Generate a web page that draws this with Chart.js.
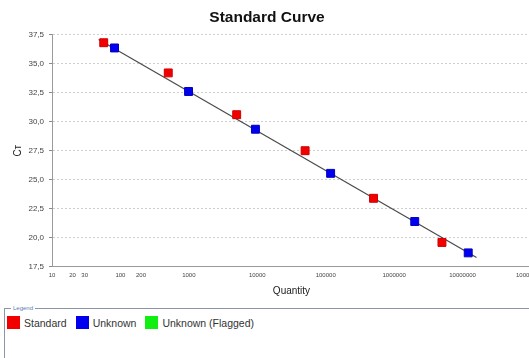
<!DOCTYPE html>
<html>
<head>
<meta charset="utf-8">
<script src="https://cdn.jsdelivr.net/npm/chart.js@4/dist/chart.umd.min.js"></script>
<style>
  html, body { margin: 0; padding: 0; background: #fff; overflow: hidden; width: 529px; height: 358px; }
  #wrap { position: absolute; left: 0; top: 0; width: 551px; height: 300px; }
  #legendBox {
    position: absolute; left: 4px; top: 305px; width: 600px; height: 80px;
    margin: 0; padding: 4px 0 0 2px; border: 1px solid #8c96a8; border-right: none; border-bottom: none;
    font-family: "Liberation Sans", Arial, sans-serif;
  }
  #legendBox legend { font-size: 6px; color: #5b7bb5; padding: 0 2px; margin-left: 4px; }
  .item { display: inline-flex; align-items: center; margin-right: 9px; font-size: 10.5px; color: #333; }
  .swatch { width: 13px; height: 13px; margin-right: 4px; box-sizing: border-box; }
</style>
</head>
<body>
<div id="wrap"><canvas id="curve" width="551" height="300"></canvas></div>
<fieldset id="legendBox"><legend>Legend</legend><div id="legendItems"></div></fieldset>
<script>
const standardQty = [57, 500, 5000, 50000, 500000, 5000000];
const standardCt = [36.8, 34.2, 30.6, 27.5, 23.4, 19.6];

const unknownQty = [82, 990, 9400, 118000, 2000000, 12100000];
const unknownCt = [36.35, 32.6, 29.35, 25.55, 21.4, 18.7];

const flaggedQty = [];
const flaggedCt = [];

// droite de régression
const fitQty = [48, 16000000];
const fitCt = [37.07, 18.3];

const xTickValues = [10, 20, 30, 100, 200, 1000, 10000, 100000, 1000000, 10000000, 100000000];

const seriesNames = ['Standard', 'Unknown', 'Unknown (Flagged)'];
const seriesColors = ['#f20000', '#0000ee', '#11ee11'];

const toPoints = (xs, ys) => xs.map((x, i) => ({ x: x, y: ys[i] }));

const font = '"Liberation Sans", Arial, sans-serif';

// le titre est centré sur la zone visible et non sur tout le canvas
const titleShift = {
    id: 'titleShift',
    afterLayout(chart) {
        if (chart.titleBlock) chart.titleBlock.right = chart.width - 17;
    }
};

const chart = new Chart(document.getElementById('curve'), {
    type: 'scatter',
    data: {
        datasets: [
            {
                label: 'Fit',
                data: toPoints(fitQty, fitCt),
                showLine: true,
                borderColor: '#4a4a4a',
                borderWidth: 1.2,
                pointRadius: 0,
                order: 3
            },
            {
                label: seriesNames[0],
                data: toPoints(standardQty, standardCt),
                pointStyle: 'rect',
                pointRadius: 5.6,
                backgroundColor: seriesColors[0],
                borderColor: '#d00000',
                borderWidth: 1,
                order: 1
            },
            {
                label: seriesNames[1],
                data: toPoints(unknownQty, unknownCt),
                pointStyle: 'rect',
                pointRadius: 5.6,
                backgroundColor: seriesColors[1],
                borderColor: '#0000c0',
                borderWidth: 1,
                order: 1
            },
            {
                label: seriesNames[2],
                data: toPoints(flaggedQty, flaggedCt),
                pointStyle: 'rect',
                pointRadius: 5.6,
                backgroundColor: seriesColors[2],
                order: 1
            }
        ]
    },
    plugins: [titleShift],
    options: {
        responsive: false,
        animation: false,
        layout: { padding: { bottom: 3 } },
        plugins: {
            legend: { display: false },
            tooltip: { enabled: false },
            title: {
                display: true,
                text: 'Standard Curve',
                color: '#111',
                font: { family: font, size: 15.5, weight: 'bold' },
                padding: { top: 8, bottom: 8 }
            }
        },
        scales: {
            x: {
                type: 'logarithmic',
                min: 10,
                max: 100000000,
                afterBuildTicks: (scale) => {
                    scale.ticks = xTickValues.map(v => ({ value: v }));
                },
                ticks: {
                    autoSkip: false,
                    maxRotation: 0,
                    padding: 5,
                    color: '#444',
                    font: { family: font, size: 6 },
                    callback: (v) => String(v)
                },
                grid: { display: false, drawTicks: false },
                border: { display: true, color: '#9a9a9a', width: 1 },
                title: {
                    display: true,
                    text: 'Quantity',
                    color: '#222',
                    font: { family: font, size: 10 },
                    padding: { top: 1, bottom: 0 }
                }
            },
            y: {
                min: 17.5,
                max: 37.5,
                afterFit: (scale) => { scale.width = 52; },
                ticks: {
                    stepSize: 2.5,
                    padding: 5,
                    color: '#444',
                    font: { family: font, size: 8 },
                    callback: (v) => v.toFixed(1).replace('.', ',')
                },
                grid: {
                    color: '#cfcfcf',
                    drawTicks: true,
                    tickLength: 3,
                    tickColor: '#888',
                    tickBorderDash: []
                },
                border: { display: true, color: '#9a9a9a', width: 1, dash: [2, 2] },
                title: {
                    display: true,
                    text: 'Cᴛ',
                    color: '#222',
                    font: { family: font, size: 10 },
                    padding: { top: 12, bottom: 0 }
                }
            }
        }
    }
});

// légende HTML construite à partir des séries
const legendItems = document.getElementById('legendItems');
seriesNames.forEach((name, i) => {
    const item = document.createElement('span');
    item.className = 'item';
    item.innerHTML = '<span class="swatch" style="background:' + seriesColors[i] + '"></span>' + name;
    legendItems.appendChild(item);
});
</script>
</body>
</html>
